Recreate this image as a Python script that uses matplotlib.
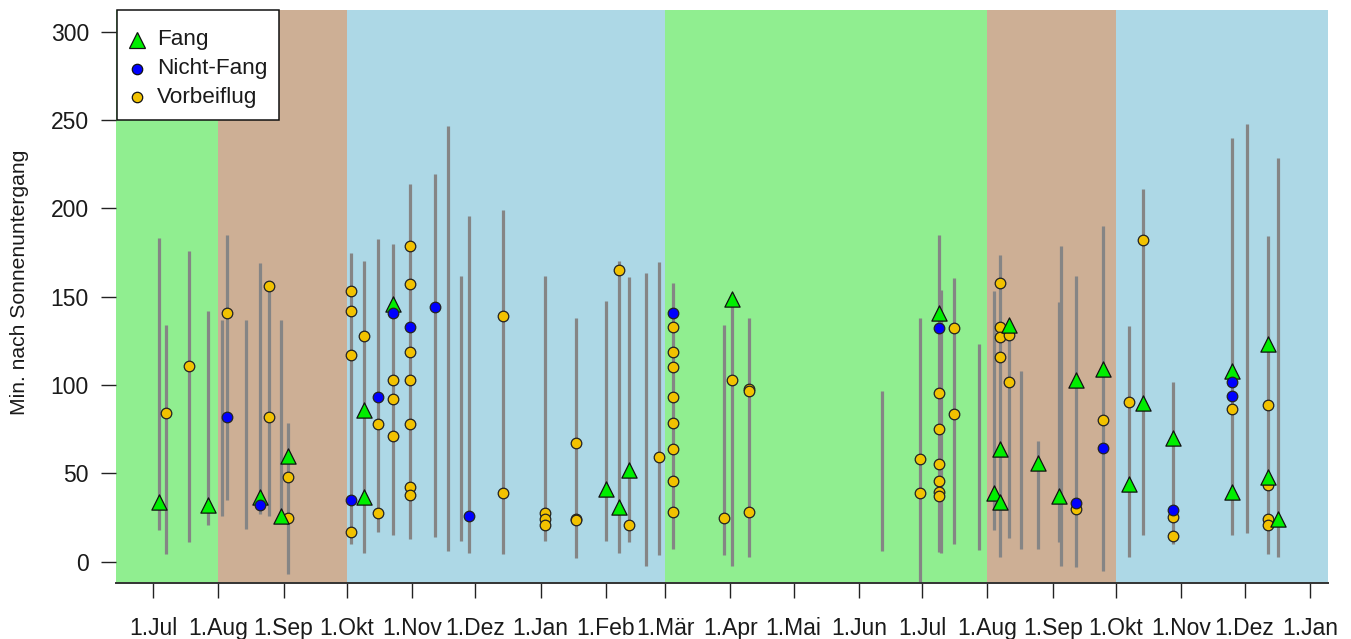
import matplotlib
matplotlib.use("Agg")
import matplotlib.pyplot as plt
import matplotlib.dates as mdates
from matplotlib.patches import Rectangle
import datetime as dt

plt.rcParams['font.family'] = ['Liberation Sans', 'DejaVu Sans']

# ---------------- data ----------------
# observation nights: date, lowest and highest minute after sunset (grey bars)
line_dates = ["2018-07-04", "2018-07-07", "2018-07-18", "2018-07-27", "2018-08-03", "2018-08-05",
              "2018-08-14", "2018-08-21", "2018-08-25", "2018-08-31", "2018-09-03", "2018-10-03",
              "2018-10-09", "2018-10-16", "2018-10-23", "2018-10-31", "2018-11-12", "2018-11-18",
              "2018-11-24", "2018-11-28", "2018-12-14", "2019-01-03", "2019-01-18", "2019-02-01",
              "2019-02-07", "2019-02-12", "2019-02-20", "2019-02-26", "2019-03-05", "2019-03-29",
              "2019-04-02", "2019-04-10", "2019-06-12", "2019-06-30", "2019-07-09", "2019-07-10",
              "2019-07-16", "2019-07-28", "2019-08-04", "2019-08-07", "2019-08-11", "2019-08-17",
              "2019-08-25", "2019-09-04", "2019-09-05", "2019-09-12", "2019-09-25", "2019-10-07",
              "2019-10-14", "2019-10-28", "2019-11-25", "2019-12-02", "2019-12-12", "2019-12-17"]
line_low = [18, 4.5, 11, 21, 26, 35,
            18.5, 27, 26, 24, -7, 10,
            5, 17, 15, 13, 14, 6,
            11.5, 5, 4.5, 11.5, 2, 11.5,
            5, 11, -2.4, 4, 7, 4,
            -2.4, 2.6, 6, -20, 5.5, 5,
            10, 6.4, 18, 2.6, 13.4, 7.3,
            7.3, 11, -2.4, -3, -5, 2.6,
            15, 10, 15, 16.4, 4.3, 2.6]
line_high = [183, 134, 176, 142, 137, 185,
             137, 169, 156, 137, 78.5, 175,
             170, 182.5, 180, 213.6, 219.4, 246.5,
             162, 195.6, 199, 162, 137.7, 147.5,
             170, 161, 163.7, 169.5, 158, 134,
             149, 138, 96.4, 137.7, 185, 154,
             160.5, 123, 153, 173.6, 134, 108,
             68.5, 147, 179, 162, 190, 133.5,
             211, 101.5, 240, 247.5, 184.4, 228.6]

fang_dates = ["2018-07-04", "2018-07-27", "2018-08-21", "2018-08-31", "2018-09-03", "2018-10-09",
              "2018-10-09", "2018-10-23", "2019-02-01", "2019-02-07", "2019-02-12", "2019-04-02",
              "2019-07-09", "2019-08-04", "2019-08-07", "2019-08-07", "2019-08-11", "2019-08-25",
              "2019-09-04", "2019-09-12", "2019-09-25", "2019-10-07", "2019-10-14", "2019-10-28",
              "2019-11-25", "2019-11-25", "2019-12-12", "2019-12-12", "2019-12-17"]
fang_vals = [34, 32, 36.5, 26, 60, 86,
             36.5, 146, 41, 31, 52, 149,
             141, 39, 64, 34, 134, 56,
             37.5, 103, 109, 44, 90, 70,
             108, 39.4, 123, 48, 24]

nicht_dates = ["2018-08-05", "2018-08-21", "2018-10-03", "2018-10-16", "2018-10-23", "2018-10-31",
               "2018-11-12", "2018-11-28", "2019-03-05", "2019-07-09", "2019-09-12", "2019-09-25",
               "2019-10-28", "2019-11-25", "2019-11-25"]
nicht_vals = [82, 32, 35, 93, 141, 133,
              144, 26, 141, 132.4, 33, 64.4,
              29.4, 102, 94]

vorb_dates = ["2018-07-07", "2018-07-18", "2018-08-05", "2018-08-25", "2018-08-25", "2018-09-03",
              "2018-09-03", "2018-10-03", "2018-10-03", "2018-10-03", "2018-10-03", "2018-10-09",
              "2018-10-16", "2018-10-16", "2018-10-23", "2018-10-23", "2018-10-23", "2018-10-31",
              "2018-10-31", "2018-10-31", "2018-10-31", "2018-10-31", "2018-10-31", "2018-10-31",
              "2018-12-14", "2018-12-14", "2019-01-03", "2019-01-03", "2019-01-03", "2019-01-18",
              "2019-01-18", "2019-01-18", "2019-02-07", "2019-02-12", "2019-02-26", "2019-03-05",
              "2019-03-05", "2019-03-05", "2019-03-05", "2019-03-05", "2019-03-05", "2019-03-05",
              "2019-03-05", "2019-03-29", "2019-04-02", "2019-04-10", "2019-04-10", "2019-04-10",
              "2019-06-30", "2019-06-30", "2019-07-09", "2019-07-09", "2019-07-09", "2019-07-09",
              "2019-07-09", "2019-07-09", "2019-07-16", "2019-07-16", "2019-08-07", "2019-08-07",
              "2019-08-07", "2019-08-07", "2019-08-11", "2019-08-11", "2019-09-12", "2019-09-25",
              "2019-10-07", "2019-10-14", "2019-10-28", "2019-10-28", "2019-11-25", "2019-12-12",
              "2019-12-12", "2019-12-12", "2019-12-12"]
vorb_vals = [84, 111, 141, 156, 82, 48,
             25, 153, 142, 117, 17, 128,
             78, 27.5, 103, 92, 71, 178.5,
             157, 118.5, 103, 78, 42.5, 38,
             139, 39, 27.7, 24.3, 21.1, 67,
             24.5, 23.5, 165, 21, 59.5, 133,
             118.5, 110, 93, 78.5, 64, 45.5,
             28, 25, 103, 97.7, 96.4, 28.4,
             58, 39, 95.7, 75, 55.4, 45.6,
             39.4, 37.5, 132.4, 83.4, 158, 133,
             127.5, 116, 128.4, 102, 30, 80,
             90.6, 182, 25.2, 14.5, 86.6, 88.5,
             43.7, 24.3, 21.1]

# seasons (background bands)
season_starts = ["2018-06-13", "2018-08-01", "2018-10-01", "2019-03-01", "2019-08-01", "2019-10-01"]
season_ends = ["2018-08-01", "2018-10-01", "2019-03-01", "2019-08-01", "2019-10-01", "2020-01-10"]
season_colors = ["#90EE90", "#CDAF95", "#ADD8E6", "#90EE90", "#CDAF95", "#ADD8E6"]

tick_dates = ["2018-07-01", "2018-08-01", "2018-09-01", "2018-10-01", "2018-11-01", "2018-12-01",
              "2019-01-01", "2019-02-01", "2019-03-01", "2019-04-01", "2019-05-01", "2019-06-01",
              "2019-07-01", "2019-08-01", "2019-09-01", "2019-10-01", "2019-11-01", "2019-12-01",
              "2020-01-01"]
tick_labels = ["1.Jul", "1.Aug", "1.Sep", "1.Okt", "1.Nov", "1.Dez", "1.Jan", "1.Feb", "1.Mär",
               "1.Apr", "1.Mai", "1.Jun", "1.Jul", "1.Aug", "1.Sep", "1.Okt", "1.Nov", "1.Dez", "1.Jan"]
y_ticks = [0, 50, 100, 150, 200, 250, 300]

legend_labels = ["Fang", "Nicht-Fang", "Vorbeiflug"]

FANG_C = "#00EE00"
NICHT_C = "#0000FF"
VORB_C = "#F2C200"


def d(s):
    return mdates.date2num(dt.datetime.strptime(s, "%Y-%m-%d"))


W, H = 1351, 639

# ---------------- plot ----------------
fig = plt.figure(figsize=(W / 100, H / 100), dpi=100)
ax = fig.add_axes([116 / W, 1 - 583 / H, (1328 - 116) / W, (583 - 10.5) / H])

x_lo = mdates.date2num(dt.datetime(2018, 6, 13, 12))
x_hi = mdates.date2num(dt.datetime(2020, 1, 9, 14))
for s, e, c in zip(season_starts, season_ends, season_colors):
    ax.axvspan(max(d(s), x_lo), min(d(e), x_hi), color=c, lw=0, zorder=0)

ax.vlines([d(s) for s in line_dates], line_low, line_high, colors="#858585", lw=2.3, zorder=2)

ax.scatter([d(s) for s in vorb_dates], vorb_vals, marker="o", s=58, c=VORB_C,
           edgecolors="#222222", linewidths=0.9, zorder=3)
ax.scatter([d(s) for s in fang_dates], fang_vals, marker="^", s=120, c=FANG_C,
           edgecolors="#111111", linewidths=0.9, zorder=4)
ax.scatter([d(s) for s in nicht_dates], nicht_vals, marker="o", s=58, c=NICHT_C,
           edgecolors="#222222", linewidths=0.9, zorder=5)

ax.set_xlim(x_lo, x_hi)
ax.set_ylim(-12, 312)

ax.set_xticks([d(s) for s in tick_dates])
ax.set_xticklabels(tick_labels)
ax.set_yticks(y_ticks)
ax.set_yticklabels([str(v) for v in y_ticks])
ax.tick_params(axis="x", length=10.5, width=1.0, color="#222222", pad=14, labelsize=16.5,
               labelcolor="#1a1a1a")
ax.tick_params(axis="y", length=10.5, width=1.0, color="#222222", pad=9, labelsize=16.5,
               labelcolor="#1a1a1a")

for side in ["top", "right", "left"]:
    ax.spines[side].set_visible(False)
ax.spines["bottom"].set_color("#333333")
ax.spines["bottom"].set_linewidth(1.4)
ax.spines["bottom"].set_zorder(6)

fig.text(20 / W, 1 - 282 / H, "Min. nach Sonnenuntergang", rotation=90,
         ha="center", va="center", fontsize=15.2, color="#1a1a1a")

# ---------------- legend (R-style box) ----------------
def fx(px):
    return px / W


def fy(py):
    return 1 - py / H


box_l, box_t, box_r, box_b = 116.5, 10.5, 279, 120
fig.patches.append(Rectangle((fx(box_l), fy(box_b)), fx(box_r) - fx(box_l), fy(box_t) - fy(box_b),
                             transform=fig.transFigure, facecolor="white", edgecolor="#111111",
                             linewidth=1.1, zorder=10))
row_y = [40, 68.5, 97]
styles = [("^", 11, FANG_C), ("o", 7.5, NICHT_C), ("o", 7.5, VORB_C)]
for yy, (m, ms, c), lab in zip(row_y, styles, legend_labels):
    fig.add_artist(plt.Line2D([fx(137)], [fy(yy)], transform=fig.transFigure, marker=m,
                              markersize=ms, markerfacecolor=c, markeredgecolor="#111111",
                              markeredgewidth=0.9, linestyle="none", zorder=11))
    fig.text(fx(157), fy(yy), lab, ha="left", va="center", fontsize=16.2,
             color="#1a1a1a", zorder=11)

fig.savefig("out.png", dpi=100)
